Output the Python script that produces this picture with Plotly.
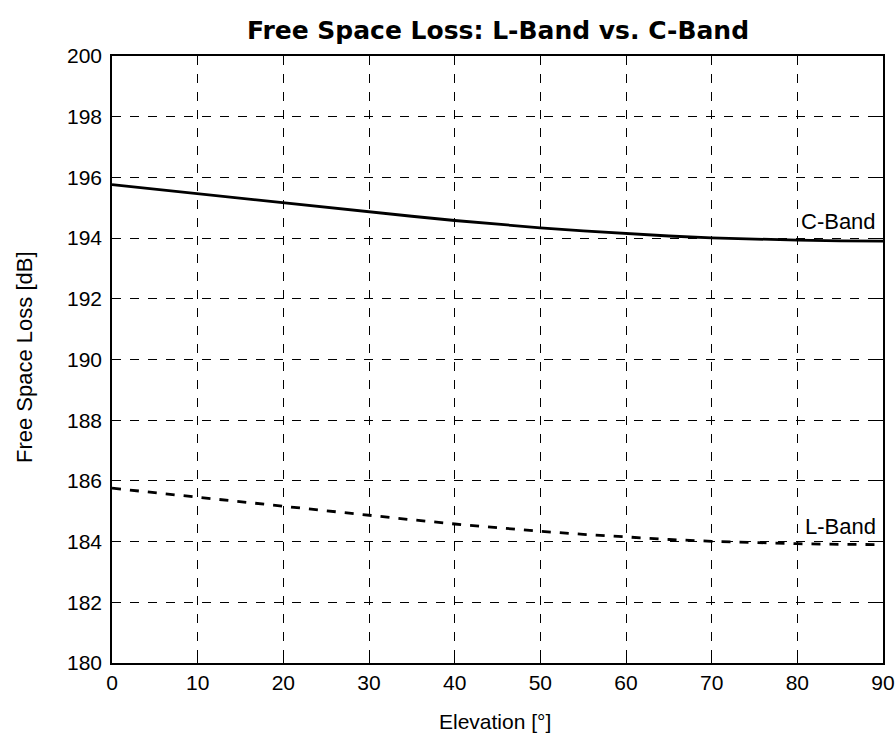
import plotly.graph_objects as go

elevation = [0, 5, 10, 15, 20, 25, 30, 35, 40, 45, 50, 55, 60, 65, 70, 75, 80, 85, 90]
c_band = [195.76, 195.61, 195.46, 195.31, 195.15, 195.00, 194.86, 194.72, 194.58,
          194.45, 194.34, 194.24, 194.15, 194.07, 194.01, 193.96, 193.93, 193.91, 193.90]
l_band = [185.76, 185.61, 185.46, 185.31, 185.15, 185.00, 184.86, 184.72, 184.58,
          184.45, 184.34, 184.24, 184.15, 184.07, 184.01, 183.96, 183.93, 183.91, 183.90]
x_ticks = [0, 10, 20, 30, 40, 50, 60, 70, 80, 90]
y_ticks = [180, 182, 184, 186, 188, 190, 192, 194, 196, 198, 200]

FONT = "Liberation Sans, Arial, sans-serif"
TFONT = "DejaVu Sans, Liberation Sans, sans-serif"

W, H = 895, 737
ML, MR, MT, MB = 112, 12, 56, 74

fig = go.Figure()
fig.add_trace(go.Scatter(x=elevation, y=c_band, mode="lines", name="C-Band",
                         line=dict(color="black", width=2.8)))
fig.add_trace(go.Scatter(x=elevation, y=l_band, mode="lines", name="L-Band",
                         line=dict(color="black", width=2.8, dash="dash")))

fig.add_annotation(x=89.4, y=194.56, text="C-Band", showarrow=False, xanchor="right",
                   font=dict(family=FONT, size=22, color="black"))
fig.add_annotation(x=89.4, y=184.5, text="L-Band", showarrow=False, xanchor="right",
                   font=dict(family=FONT, size=22, color="black"))

# axis titles placed in pixel terms via paper coords
pw = W - ML - MR
ph = H - MT - MB
fig.add_annotation(xref="paper", yref="paper",
                   x=(495 - ML) / pw, y=-(721 - (H - MB)) / ph,
                   text="Elevation [°]", showarrow=False,
                   xanchor="center", yanchor="middle",
                   font=dict(family=FONT, size=21, color="black"))
fig.add_annotation(xref="paper", yref="paper",
                   x=-(ML - 24) / pw, y=((H - MB) - 357) / ph,
                   text="Free Space Loss [dB]", showarrow=False, textangle=-90,
                   xanchor="center", yanchor="middle",
                   font=dict(family=FONT, size=22, color="black"))

axis_common = dict(
    showgrid=True, gridcolor="black", gridwidth=1, griddash="dash",
    showline=True, linecolor="black", linewidth=1.5, mirror="ticks",
    ticks="inside", ticklen=6, tickcolor="black", tickwidth=1,
    zeroline=False, automargin=False,
    tickfont=dict(family=FONT, size=21, color="black"),
)

fig.update_xaxes(range=[0, 90], tickvals=x_ticks, ticktext=[str(v) for v in x_ticks],
                 **axis_common)
fig.update_yaxes(range=[180, 200], tickvals=y_ticks, ticktext=[str(v) for v in y_ticks],
                 ticklabelstandoff=4, **axis_common)

fig.update_layout(
    width=W, height=H,
    margin=dict(l=ML, r=MR, t=MT, b=MB, autoexpand=False),
    paper_bgcolor="white", plot_bgcolor="white",
    showlegend=False,
    title=dict(text="<b>Free Space Loss: L-Band vs. C-Band</b>", x=498 / W, xanchor="center",
               y=1 - 30 / H, yanchor="middle",
               font=dict(family=TFONT, size=25, color="black")),
)

fig.write_html("out.html")
